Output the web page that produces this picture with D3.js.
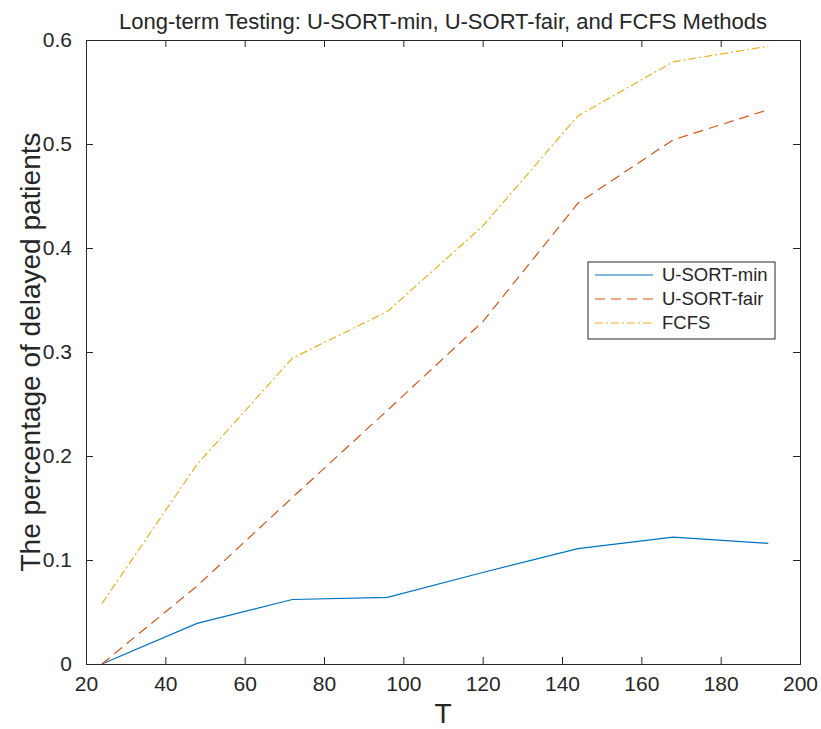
<!DOCTYPE html>
<html>
<head>
<meta charset="utf-8">
<script src="https://cdn.jsdelivr.net/npm/d3@7"></script>
<style>
  body { margin: 0; background: #fff; }
  svg text { font-family: "Liberation Sans", Arial, sans-serif; fill: #262626; }
</style>
</head>
<body>
<div class="container"></div>
<script>
// Chart data
const T = [24, 48, 72, 96, 120, 144, 168, 192];
const usortMin = [0, 0.039, 0.062, 0.064, 0.088, 0.111, 0.122, 0.116];
const usortFair = [0, 0.075, 0.16, 0.244, 0.329, 0.443, 0.504, 0.533];
const fcfs = [0.058, 0.192, 0.294, 0.339, 0.421, 0.527, 0.579, 0.594];
const xTicks = [20, 40, 60, 80, 100, 120, 140, 160, 180, 200];
const yTicks = [0, 0.1, 0.2, 0.3, 0.4, 0.5, 0.6];

const seriesNames = ["U-SORT-min", "U-SORT-fair", "FCFS"];
const seriesValues = [usortMin, usortFair, fcfs];
const colors = ["#0072BD", "#D95319", "#EDB120"];
const dashes = [null, "10,6", "8,3,2,3"];

const width = 821, height = 729;
const margin = { top: 40, right: 21, bottom: 65, left: 86 };
const innerW = width - margin.left - margin.right;
const innerH = height - margin.top - margin.bottom;

const svg = d3.select(".container")
    .append("svg")
    .attr("width", width)
    .attr("height", height);

const g = svg.append("g")
    .attr("transform", `translate(${margin.left},${margin.top})`);

const x = d3.scaleLinear().domain([20, 200]).range([0, innerW]);
const y = d3.scaleLinear().domain([0, 0.6]).range([innerH, 0]);

// axes with inward ticks
const xAxis = g.append("g")
    .attr("transform", `translate(0,${innerH})`)
    .call(d3.axisBottom(x).tickValues(xTicks).tickSize(-7).tickPadding(12).tickFormat(d3.format("d")));
const yAxis = g.append("g")
    .call(d3.axisLeft(y).tickValues(yTicks).tickSize(-7).tickPadding(14).tickFormat(d => d === 0 ? "0" : d3.format(".1f")(d)));
const xTop = g.append("g")
    .call(d3.axisTop(x).tickValues(xTicks).tickSize(-7).tickFormat(""));
const yRight = g.append("g")
    .attr("transform", `translate(${innerW},0)`)
    .call(d3.axisRight(y).tickValues(yTicks).tickSize(-7).tickFormat(""));

[xAxis, yAxis, xTop, yRight].forEach(a => {
    a.selectAll("path, line").attr("stroke", "#262626");
    a.selectAll("text").style("font-size", "21px").attr("fill", "#262626");
});
xAxis.selectAll("text").attr("dy", "0.71em");

// lines
const line = d3.line()
    .x((d, i) => x(T[i]))
    .y(d => y(d));

seriesValues.forEach((vals, k) => {
    g.append("path")
        .datum(vals)
        .attr("fill", "none")
        .attr("stroke", colors[k])
        .attr("stroke-width", 1.2)
        .attr("stroke-dasharray", dashes[k])
        .attr("d", line);
});

// title and axis labels
svg.append("text")
    .attr("x", margin.left + innerW / 2)
    .attr("y", 29)
    .attr("text-anchor", "middle")
    .style("font-size", "22px")
    .text("Long-term Testing: U-SORT-min, U-SORT-fair, and FCFS Methods");

svg.append("text")
    .attr("x", margin.left + innerW / 2)
    .attr("y", 723)
    .attr("text-anchor", "middle")
    .style("font-size", "28px")
    .text("T");

svg.append("text")
    .attr("transform", `translate(40,${margin.top + innerH / 2}) rotate(-90)`)
    .attr("text-anchor", "middle")
    .style("font-size", "28px")
    .text("The percentage of delayed patients");

// legend
const legend = svg.append("g").attr("transform", "translate(588,262)");
legend.append("rect")
    .attr("width", 187)
    .attr("height", 77)
    .attr("fill", "#fff")
    .attr("stroke", "#262626")
    .attr("stroke-width", 1);

seriesNames.forEach((name, k) => {
    const ly = 13 + k * 24;
    legend.append("line")
        .attr("x1", 7).attr("x2", 65)
        .attr("y1", ly).attr("y2", ly)
        .attr("stroke", colors[k])
        .attr("stroke-width", 1.2)
        .attr("stroke-dasharray", dashes[k]);
    legend.append("text")
        .attr("x", 74)
        .attr("y", ly)
        .attr("dy", "0.35em")
        .style("font-size", "18.5px")
        .text(name);
});
</script>
</body>
</html>
